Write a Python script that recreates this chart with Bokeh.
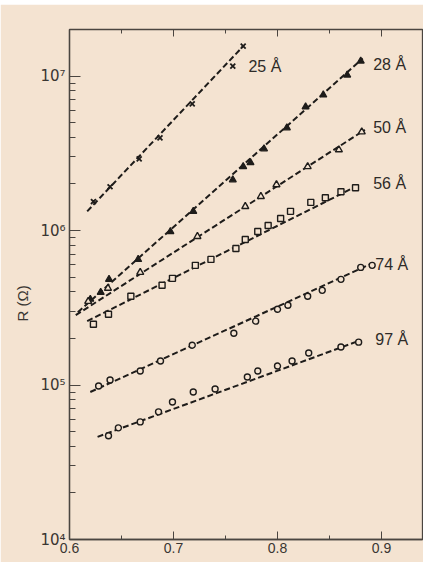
import math
from bokeh.plotting import figure
from bokeh.models import FixedTicker, LinearAxis, CustomJSTickFormatter, Title
from bokeh.core.properties import value
from bokeh.embed import file_html
from bokeh.resources import INLINE

# ---- data ----
x_25 = [0.623, 0.639, 0.667, 0.687, 0.718, 0.757, 0.767]
R_25 = [1.54e6, 1.92e6, 2.91e6, 3.98e6, 6.6e6, 1.16e7, 1.56e7]
fit_x_25 = [0.617, 0.767]
fit_R_25 = [1.33e6, 1.56e7]

x_28 = [0.620, 0.630, 0.638, 0.666, 0.697, 0.719, 0.757, 0.767, 0.774, 0.787, 0.809, 0.827, 0.844, 0.867, 0.880]
R_28 = [3.59e5, 3.98e5, 4.83e5, 6.50e5, 9.85e5, 1.33e6, 2.13e6, 2.59e6, 2.75e6, 3.38e6, 4.62e6, 6.31e6, 7.54e6, 1.015e7, 1.25e7]
fit_x_28 = [0.608, 0.882]
fit_R_28 = [2.96e5, 1.30e7]

x_50 = [0.618, 0.637, 0.668, 0.723, 0.769, 0.784, 0.799, 0.829, 0.859, 0.881]
R_50 = [3.48e5, 4.23e5, 5.36e5, 9.15e5, 1.43e6, 1.66e6, 1.98e6, 2.59e6, 3.33e6, 4.35e6]
fit_x_50 = [0.606, 0.884]
fit_R_50 = [2.83e5, 4.48e6]

x_56 = [0.623, 0.6375, 0.659, 0.689, 0.699, 0.721, 0.736, 0.760, 0.769, 0.781, 0.791, 0.803, 0.8125, 0.832, 0.846, 0.861, 0.875]
R_56 = [2.475e5, 2.87e5, 3.75e5, 4.42e5, 4.90e5, 5.95e5, 6.50e5, 7.65e5, 8.75e5, 9.85e5, 1.077e6, 1.195e6, 1.33e6, 1.52e6, 1.63e6, 1.78e6, 1.89e6]
fit_x_56 = [0.617, 0.877]
fit_R_56 = [2.59e5, 1.95e6]

x_74 = [0.628, 0.639, 0.668, 0.6875, 0.718, 0.758, 0.779, 0.800, 0.810, 0.829, 0.843, 0.861, 0.880, 0.891]
R_74 = [9.85e4, 1.077e5, 1.231e5, 1.43e5, 1.81e5, 2.165e5, 2.59e5, 3.09e5, 3.28e5, 3.75e5, 4.10e5, 4.83e5, 5.77e5, 5.95e5]
fit_x_74 = [0.620, 0.891]
fit_R_74 = [9.01e4, 6.13e5]

x_97 = [0.6375, 0.647, 0.668, 0.6856, 0.699, 0.719, 0.740, 0.771, 0.781, 0.800, 0.814, 0.830, 0.861, 0.878]
R_97 = [4.69e4, 5.28e4, 5.77e4, 6.70e4, 7.77e4, 9.01e4, 9.42e4, 1.126e5, 1.231e5, 1.327e5, 1.43e5, 1.61e5, 1.76e5, 1.894e5]
fit_x_97 = [0.627, 0.880]
fit_R_97 = [4.62e4, 1.95e5]

series_labels = ["25 Å", "28 Å", "50 Å", "56 Å", "74 Å", "97 Å"]
label_x = [0.772, 0.892, 0.892, 0.892, 0.894, 0.894]
label_R = [1.16e7, 1.18e7, 4.62e6, 2.01e6, 6.04e5, 1.98e5]

x_ticks = [0.6, 0.7, 0.8, 0.9]
x_minor = [0.65, 0.75, 0.85]
y_ticks = [1e4, 1e5, 1e6, 1e7]
y_label = "R (Ω)"

# ---- styling ----
BG = "#F4E3D1"
AX = "#4a4540"
INK = "#1e1c1a"
FONT = "Liberation Sans"

y_minor = [k * 10 ** e for e in range(4, 8) for k in range(2, 10)]

p = figure(width=423, height=558, x_range=(0.6, 0.9394), y_range=(1e4, 2.0e7),
           y_axis_type="log", output_backend="svg", toolbar_location=None,
           min_border_left=69, min_border_top=25, min_border_bottom=23, min_border_right=1,
           background_fill_color=BG, border_fill_color=BG)
p.margin = (4, 0, 0, 0)
p.grid.visible = False
p.outline_line_color = AX
p.outline_line_width = 1.3

xa = p.xaxis[0]
xa.ticker = FixedTicker(ticks=x_ticks, minor_ticks=x_minor)
ya = p.yaxis[0]
ya.ticker = FixedTicker(ticks=y_ticks, minor_ticks=y_minor)
ya.formatter = CustomJSTickFormatter(code="""
const sup = {'0':'⁰','1':'¹','2':'²','3':'³','4':'⁴','5':'⁵','6':'⁶','7':'⁷','8':'⁸','9':'⁹','-':'⁻'};
const e = String(Math.round(Math.log10(tick)));
return '10' + e.split('').map(c => sup[c]).join('');
""")
for ax in (xa, ya):
    ax.axis_line_color = AX
    ax.axis_line_width = 1.3
    ax.major_tick_line_color = AX
    ax.minor_tick_line_color = AX
    ax.major_tick_out = 0
    ax.minor_tick_out = 0
    ax.major_label_text_font = FONT
    ax.major_label_text_color = "#3a3632"
    ax.major_label_text_font_size = "14px"
ya.major_label_text_font = "DejaVu Sans"
ya.major_label_text_font_size = "15px"
xa.major_tick_in = 8
xa.minor_tick_in = 4
xa.major_label_standoff = 3
ya.major_tick_in = 11
ya.minor_tick_in = 6
ya.major_label_standoff = 4

top = LinearAxis(ticker=FixedTicker(ticks=x_ticks, minor_ticks=x_minor),
                 formatter=CustomJSTickFormatter(code="return '';"),
                 major_label_standoff=0, axis_line_color=None,
                 major_tick_line_color=AX, minor_tick_line_color=AX,
                 major_tick_in=7, major_tick_out=0, minor_tick_in=4, minor_tick_out=0)
p.add_layout(top, "above")

# y-axis title: starts ~218 px above the frame bottom and reads upward
p.add_layout(Title(text=y_label, align="left", offset=218, standoff=14,
                   text_font=FONT, text_font_size="15px", text_font_style="normal",
                   text_color="#3a3632"), "left")

dash = dict(line_color=INK, line_width=2, line_dash="6 3")
for fx, fr in [(fit_x_25, fit_R_25), (fit_x_28, fit_R_28), (fit_x_50, fit_R_50),
               (fit_x_56, fit_R_56), (fit_x_74, fit_R_74), (fit_x_97, fit_R_97)]:
    p.line(fx, fr, **dash)

p.scatter(x_25, R_25, marker="x", size=7, line_color=INK, line_width=1.8)
p.scatter(x_28, R_28, marker="triangle", size=7, line_color=INK, fill_color=INK, line_width=1.2)
p.scatter(x_50, R_50, marker="triangle", size=7, line_color=INK, fill_color=BG, line_width=1.4)
p.scatter(x_56, R_56, marker="square", size=6, line_color=INK, fill_color=BG, line_width=1.4)
p.scatter(x_74, R_74, marker="circle", size=6, line_color=INK, fill_color=BG, line_width=1.4)
p.scatter(x_97, R_97, marker="circle", size=6, line_color=INK, fill_color=BG, line_width=1.4)

p.text(x=label_x, y=label_R, text=series_labels, text_font=value(FONT),
       text_font_size="16px", text_color="#2e2b28", text_baseline="middle", text_align="left")

open("out.html", "w").write(file_html(p, INLINE))
